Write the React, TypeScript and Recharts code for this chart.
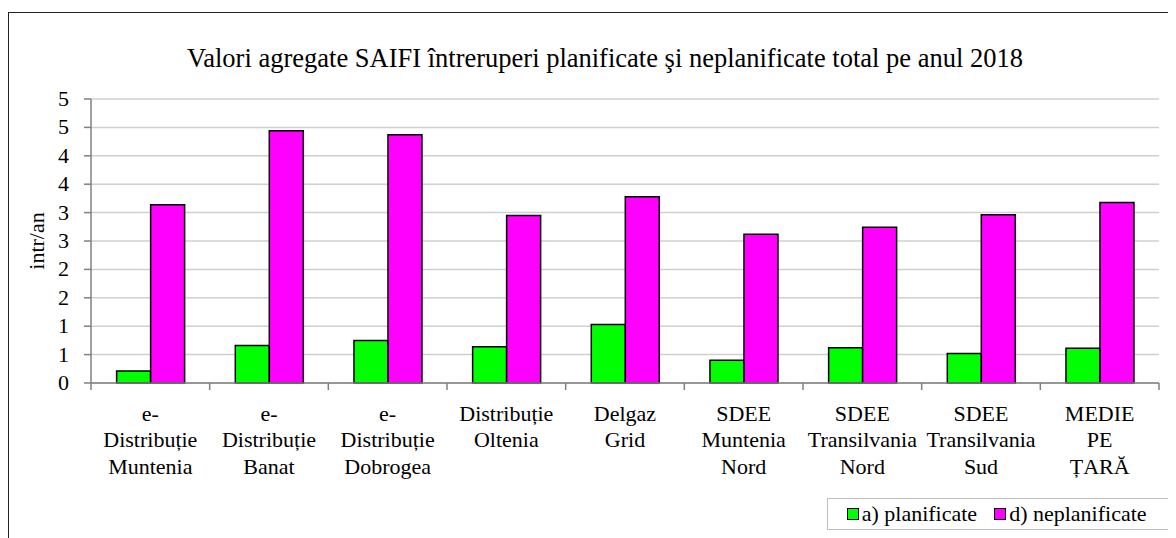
import React from 'react';
import { BarChart, Bar, XAxis, YAxis, CartesianGrid, Legend } from 'recharts';

const categories = [
  'e-Distribuție Muntenia',
  'e-Distribuție Banat',
  'e-Distribuție Dobrogea',
  'Distribuție Oltenia',
  'Delgaz Grid',
  'SDEE Muntenia Nord',
  'SDEE Transilvania Nord',
  'SDEE Transilvania Sud',
  'MEDIE PE ȚARĂ',
];
const tickLines = [
  ['e-', 'Distribuție', 'Muntenia'],
  ['e-', 'Distribuție', 'Banat'],
  ['e-', 'Distribuție', 'Dobrogea'],
  ['Distribuție', 'Oltenia'],
  ['Delgaz', 'Grid'],
  ['SDEE', 'Muntenia', 'Nord'],
  ['SDEE', 'Transilvania', 'Nord'],
  ['SDEE', 'Transilvania', 'Sud'],
  ['MEDIE', 'PE', 'ȚARĂ'],
];
const planificate = [0.21, 0.66, 0.75, 0.64, 1.03, 0.4, 0.62, 0.52, 0.61];
const neplanificate = [3.14, 4.44, 4.37, 2.95, 3.28, 2.62, 2.74, 2.96, 3.18];
const yTicks = [0, 0.5, 1, 1.5, 2, 2.5, 3, 3.5, 4, 4.5, 5];
const seriesNames = ['a) planificate', 'd) neplanificate'];
const title = 'Valori agregate SAIFI întreruperi planificate şi neplanificate total pe anul 2018';

const data = categories.map((c, i) => ({
  name: c,
  p: planificate[i],
  n: neplanificate[i],
}));

const FONT = '"Liberation Serif"';
const GREEN = '#00ff00';
const MAGENTA = '#ff00ff';

const XTick = (props: any) => {
  const { x, y, payload, index } = props;
  const half = payload && payload.offset ? payload.offset : 59.35;
  const lines = tickLines[index] || [];
  const isLast = index === categories.length - 1;
  return (
    <g>
      <line x1={x - half} y1={y} x2={x - half} y2={y + 7} stroke="#808080" strokeWidth={1.5} />
      {isLast && <line x1={x + half} y1={y} x2={x + half} y2={y + 7} stroke="#808080" strokeWidth={1.5} />}
      <text x={x} y={y + 38} textAnchor="middle" fontFamily="Liberation Serif" fontSize={22} fill="#000">
        {lines.map((l, i) => (
          <tspan key={i} x={x} dy={i === 0 ? 0 : 26.4}>
            {l}
          </tspan>
        ))}
      </text>
    </g>
  );
};

const YTick = (props: any) => {
  const { x, y, payload } = props;
  return (
    <text x={x} y={y} dy={7} textAnchor="end" fontFamily="Liberation Serif" fontSize={22} fill="#000">
      {String(Math.round(payload.value))}
    </text>
  );
};

const LegendContent = () => (
  <div
    style={{
      width: 342,
      height: 32,
      boxSizing: 'border-box',
      border: '1px solid #bfbfbf',
      background: '#fff',
      display: 'flex',
      alignItems: 'center',
      fontFamily: FONT,
      fontSize: 22,
      color: '#000',
      paddingLeft: 19,
    }}
  >
    {[GREEN, MAGENTA].map((c, i) => (
      <div key={i} style={{ display: 'flex', alignItems: 'center', marginRight: i === 0 ? 17 : 0 }}>
        <span
          style={{
            display: 'inline-block',
            width: 12,
            height: 12,
            background: c,
            border: '1.5px solid #000',
            boxSizing: 'border-box',
            marginRight: 3,
          }}
        />
        <span style={{ lineHeight: '30px', fontFamily: FONT }}>{seriesNames[i]}</span>
      </div>
    ))}
  </div>
);

export default function App() {
  return (
    <div style={{ position: 'relative', width: 1168, height: 530 }}>
      <div
        style={{
          position: 'absolute',
          left: 0,
          top: 4,
          width: 1168,
          height: 526,
          borderTop: '1.5px solid #222',
          borderLeft: '1.5px solid #222',
          boxSizing: 'border-box',
        }}
      />
      <div
        style={{
          position: 'absolute',
          left: 0,
          width: 1194,
          top: 35,
          textAlign: 'center',
          fontFamily: FONT,
          fontSize: 26.5,
          lineHeight: '30px',
          color: '#000',
          whiteSpace: 'nowrap',
        }}
      >
        {title}
      </div>
      <div style={{ position: 'absolute', left: 0, top: 0 }}>
        <BarChart
          width={1168}
          height={530}
          data={data}
          margin={{ top: 91, right: 17, left: 23, bottom: 85 }}
          barCategoryGap="21.6%"
          barGap={0}
        >
          <CartesianGrid vertical={false} stroke="#d0d0d0" strokeWidth={1.5} />
          <XAxis
            dataKey="name"
            stroke="#808080"
            strokeWidth={1.5}
            tickLine={false}
            tickSize={0}
            tickMargin={0}
            interval={0}
            height={70}
            tick={<XTick />}
          />
          <YAxis
            domain={[0, 5]}
            ticks={yTicks}
            interval={0}
            width={60}
            stroke="#808080"
            strokeWidth={1.5}
            tickSize={7}
            tickMargin={15}
            tick={<YTick />}
            label={{
              value: 'intr/an',
              angle: -90,
              position: 'insideLeft',
              fontFamily: 'Liberation Serif',
              fontSize: 22,
              fill: '#000',
              style: { textAnchor: 'middle' },
            }}
          />
          <Legend
            layout="horizontal"
            verticalAlign="middle"
            align="center"
            content={<LegendContent />}
            wrapperStyle={{ position: 'absolute', left: 818.7, top: 489.7, width: 342, height: 32 }}
          />
          <Bar dataKey="p" name={seriesNames[0]} fill={GREEN} stroke="#000" strokeWidth={1.5} isAnimationActive={false} />
          <Bar dataKey="n" name={seriesNames[1]} fill={MAGENTA} stroke="#000" strokeWidth={1.5} isAnimationActive={false} />
        </BarChart>
      </div>
    </div>
  );
}
